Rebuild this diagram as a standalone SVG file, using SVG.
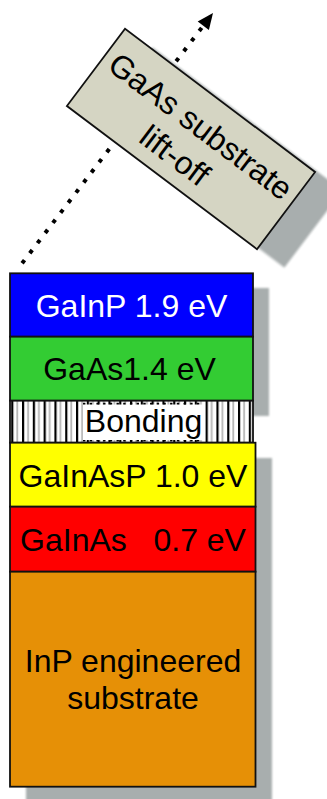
<svg xmlns="http://www.w3.org/2000/svg" width="327" height="799" viewBox="0 0 327 799">
  <defs>
    <!-- vertical hatching for the bonding interface -->
    <pattern id="hatch" patternUnits="userSpaceOnUse" x="0.4" y="0" width="10.8" height="10">
      <rect x="0" y="0" width="10.8" height="10" fill="#ffffff"/>
      <rect x="0" y="0" width="2.2" height="10" fill="#000000"/>
      <rect x="5.2" y="0" width="1.8" height="10" fill="#b4b4b4"/>
    </pattern>
    <filter id="soft" x="-10%" y="-10%" width="120%" height="120%">
      <feGaussianBlur stdDeviation="0.8"/>
    </filter>
  </defs>
  <style>
    .layer { stroke: #111111; stroke-width: 1.8; }
    .shadow { fill: #a8aeae; filter: url(#soft); }
    .lbl { font-family: "Liberation Sans", Arial, sans-serif; font-size: 32px; text-anchor: middle; fill: #000000; }
    .dots { fill: none; stroke: #000000; stroke-width: 4; stroke-dasharray: 4 8.7; }
  </style>

  <rect width="327" height="799" fill="#ffffff"/>

  <!-- drop shadows of the two stacks -->
  <g id="stack-shadows">
    <rect class="shadow" x="26" y="288" width="243" height="128"/>
    <rect class="shadow" x="26" y="458" width="246" height="345"/>
  </g>

  <!-- upper stack: grown on GaAs -->
  <g id="gainp">
    <rect class="layer" x="10" y="273.3" width="243" height="63.4" fill="#0000ff"/>
    <text class="lbl" x="131.5" y="316.5" fill="#ffffff" style="fill:#ffffff">GaInP 1.9 eV</text>
  </g>
  <g id="gaas">
    <rect class="layer" x="10" y="336.7" width="243" height="64" fill="#33cc33"/>
    <text class="lbl" x="129.5" y="380">GaAs1.4 eV</text>
  </g>
  <g id="bonding">
    <rect class="layer" x="10" y="400.7" width="243" height="42" fill="url(#hatch)"/>
    <rect x="83" y="404.5" width="120" height="35.5" fill="#ffffff"/>
    <line x1="83" y1="403.6" x2="203" y2="403.6" stroke="#000" stroke-width="1.6" stroke-dasharray="2.4 4.3"/>
    <line x1="83" y1="440.8" x2="203" y2="440.8" stroke="#000" stroke-width="1.6" stroke-dasharray="2.4 4.3"/>
    <text class="lbl" x="143.5" y="431.5">Bonding</text>
  </g>

  <!-- lower stack: grown on InP -->
  <g id="gainasp">
    <rect class="layer" x="10" y="442.7" width="245.5" height="64" fill="#ffff00"/>
    <text class="lbl" x="133" y="486.5">GaInAsP 1.0 eV</text>
  </g>
  <g id="gainas">
    <rect class="layer" x="10" y="506.7" width="245.5" height="65" fill="#ff0000"/>
    <text class="lbl" x="133" y="550.5" xml:space="preserve" style="white-space:pre">GaInAs   0.7 eV</text>
  </g>
  <g id="inp-substrate">
    <rect class="layer" x="10" y="571.7" width="245.5" height="215" fill="#e69006"/>
    <text class="lbl" x="133" y="671.5">InP engineered</text>
    <text class="lbl" x="133" y="709">substrate</text>
  </g>

  <!-- lift-off direction -->
  <g id="connectors">
    <line class="dots" x1="22.1" y1="263.3" x2="203.3" y2="25.7"/>
    <polygon points="213,13 208.9,29.9 197.7,21.5" fill="#000000"/>
  </g>

  <!-- removed GaAs growth substrate, tilted away -->
  <g id="gaas-substrate" transform="translate(191 139) rotate(37)">
    <rect class="shadow" x="-107" y="-53" width="238" height="96.6" transform="rotate(-37) translate(15 15) rotate(37)"/>
    <rect x="-119" y="-48.3" width="238" height="96.6" fill="#d5d5c3" stroke="#111111" stroke-width="1.8"/>
    <text class="lbl" x="0" y="-5">GaAs substrate</text>
    <text class="lbl" x="-3" y="34">lift-off</text>
  </g>
</svg>
